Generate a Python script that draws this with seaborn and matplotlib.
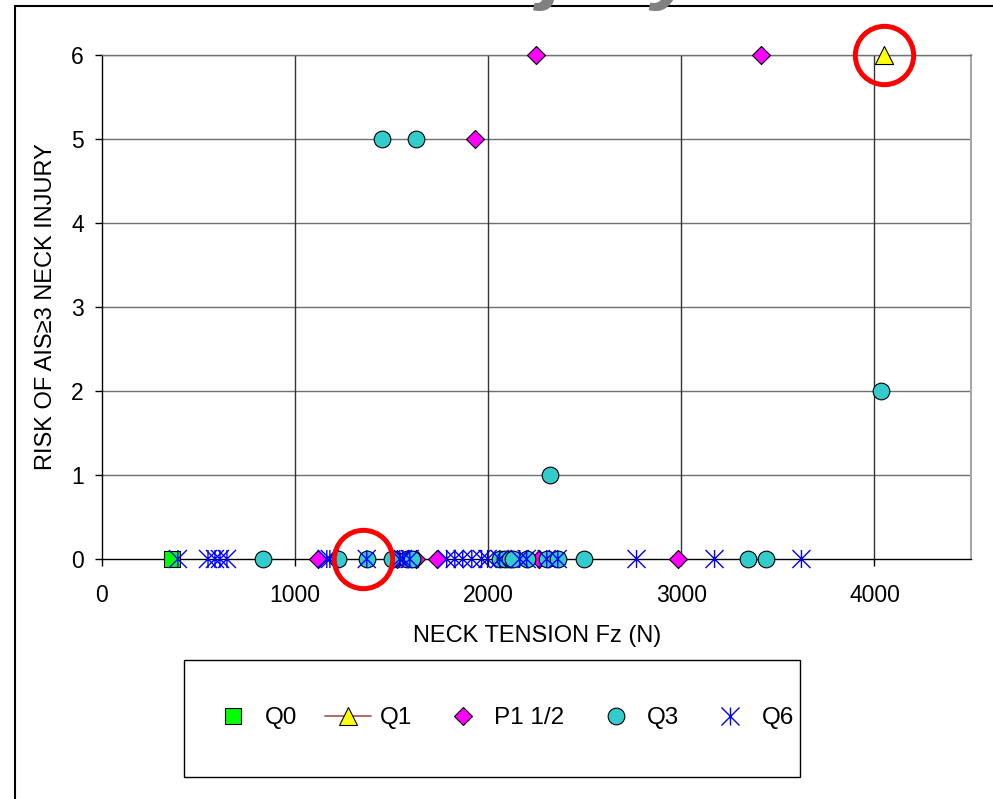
import numpy as np
import pandas as pd
import matplotlib
matplotlib.use("Agg")
import matplotlib.pyplot as plt
from matplotlib.path import Path
from matplotlib.lines import Line2D
from matplotlib.patches import Rectangle
import seaborn as sns

sns.set_style("ticks")
plt.rcParams['font.family'] = ['Liberation Sans', 'DejaVu Sans']
plt.rcParams['text.color'] = 'black'
plt.rcParams['axes.labelcolor'] = 'black'
plt.rcParams['xtick.color'] = 'black'
plt.rcParams['ytick.color'] = 'black'

# data
q0_x = [360]
q0_y = [0]

q1_x = [4052]
q1_y = [6]

p1_x = [2246, 3415, 1930, 1118, 1530, 1625, 1733, 2261, 2981]
p1_y = [6, 6, 5, 0, 0, 0, 0, 0, 0]

q3_x = [1449, 1625, 4036, 2318, 833, 1221, 1371, 1500, 1578, 1604,
        2059, 2085, 2111, 2127, 2199, 2303, 2360, 2494, 3343, 3441]
q3_y = [5, 5, 2, 1, 0, 0, 0, 0, 0, 0,
        0, 0, 0, 0, 0, 0, 0, 0, 0, 0]

q6_x = [393, 549, 585, 611, 647, 1164, 1180, 1371, 1542, 1558, 1594,
        1785, 1827, 1868, 1915, 1966, 1997, 2059, 2163, 2199, 2303, 2360,
        2768, 3172, 3622]
q6_y = [0] * 25

# highlighted points (red rings)
ring_x = [1353, 4047]
ring_y = [0, 6]

x_ticks = [0, 1000, 2000, 3000, 4000]
y_ticks = [0, 1, 2, 3, 4, 5, 6]

# excel style star marker: vertical bar plus X
star = Path([(0, -1), (0, 1), (-1, -1), (1, 1), (-1, 1), (1, -1)],
            [Path.MOVETO, Path.LINETO, Path.MOVETO, Path.LINETO, Path.MOVETO, Path.LINETO])

fig = plt.figure(figsize=(9.93, 7.99), dpi=100)
ax = fig.add_axes([102/993, 240/799, 869/993, 504/799])

sns.scatterplot(x=q0_x, y=q0_y, marker='s', s=12**2, facecolor='#00FF00',
                edgecolor='black', linewidth=0.8, ax=ax, clip_on=False, zorder=3)
sns.scatterplot(x=q1_x, y=q1_y, marker='^', s=13**2, facecolor='#FFFF00',
                edgecolor='black', linewidth=0.8, ax=ax, clip_on=False, zorder=3)
sns.scatterplot(x=p1_x, y=p1_y, marker='D', s=9.2**2, facecolor='#FF00FF',
                edgecolor='black', linewidth=0.8, ax=ax, clip_on=False, zorder=3)
sns.scatterplot(x=q3_x, y=q3_y, marker='o', s=12**2, facecolor='#33CCCC',
                edgecolor='black', linewidth=0.8, ax=ax, clip_on=False, zorder=3)
sns.scatterplot(x=q6_x, y=q6_y, marker=star, s=13**2, facecolor='none',
                edgecolor='#0000FF', linewidth=1.0, ax=ax, clip_on=False, zorder=3)

ax.plot(ring_x, ring_y, linestyle='none', marker='o', markersize=42,
        markerfacecolor='none', markeredgecolor='#FF0000', markeredgewidth=3.6,
        clip_on=False, zorder=4)

ax.set_xlim(0, 4500)
ax.set_ylim(0, 6)
ax.set_xticks(x_ticks)
ax.set_yticks(y_ticks)
ax.set_xticklabels([str(t) for t in x_ticks])
ax.set_yticklabels([str(t) for t in y_ticks])

ax.grid(False)
for t in y_ticks[1:]:
    ax.axhline(t, color='#707070', linewidth=1.0, zorder=1)
for t in x_ticks[1:]:
    ax.axvline(t, color='#333333', linewidth=1.0, zorder=1)

ax.spines['left'].set_color('black')
ax.spines['bottom'].set_color('black')
ax.spines['right'].set_color('#A8A8A8')
ax.spines['top'].set_color('#707070')
for s in ax.spines.values():
    s.set_linewidth(1.0)
ax.spines['right'].set_linewidth(1.5)

ax.tick_params(axis='x', direction='out', length=5, width=1, pad=13, labelsize=16.5,
               color='black', labelcolor='black')
ax.tick_params(axis='y', direction='out', length=5, width=1, pad=8, labelsize=16.5,
               color='black', labelcolor='black')

ax.set_xlabel("NECK TENSION Fz (N)", fontsize=17, color='black')
ax.set_ylabel("RISK OF AIS≥3 NECK INJURY", fontsize=17, color='black')
ax.xaxis.set_label_coords(0.501, -0.131)
ax.yaxis.set_label_coords(-0.052, 0.5)

# legend with a separate box
handles = [
    Line2D([], [], linestyle='none', marker='s', markersize=11, markerfacecolor='#00FF00', markeredgecolor='black', markeredgewidth=0.8),
    Line2D([], [], linestyle='-', color='#A05050', linewidth=1.2, marker='^', markersize=13, markerfacecolor='#FFFF00', markeredgecolor='black', markeredgewidth=0.8),
    Line2D([], [], linestyle='none', marker='D', markersize=9, markerfacecolor='#FF00FF', markeredgecolor='black', markeredgewidth=0.8),
    Line2D([], [], linestyle='none', marker='o', markersize=12, markerfacecolor='#33CCCC', markeredgecolor='black', markeredgewidth=0.8),
    Line2D([], [], linestyle='none', marker=star, markersize=13, markerfacecolor='none', markeredgecolor='#0000FF', markeredgewidth=1.0),
]
labels = ["Q0", "Q1", "P1 1/2", "Q3", "Q6"]
fig.legend(handles, labels, loc='center', bbox_to_anchor=(502/993, 1 - 718/799),
           bbox_transform=fig.transFigure, ncol=5, frameon=False, fontsize=17.5,
           handlelength=1.9, handletextpad=0.35, columnspacing=1.15)
fig.add_artist(Rectangle((184/993, 1 - 777/799), 616/993, 117/799, transform=fig.transFigure,
                         fill=False, edgecolor='black', linewidth=1.0))

# outer chart frame and the cut-off title
fig.add_artist(Rectangle((15/993, -0.05), 1.0, 1 - 6/799 + 0.05, transform=fig.transFigure,
                         fill=False, edgecolor='black', linewidth=1.5))
fig.text(236/993, 1 + 7/799, "Neck Injury", fontsize=62, fontweight='bold', fontstyle='italic',
         color='#808080', ha='left', va='baseline')

fig.savefig("out.png", dpi=100)
